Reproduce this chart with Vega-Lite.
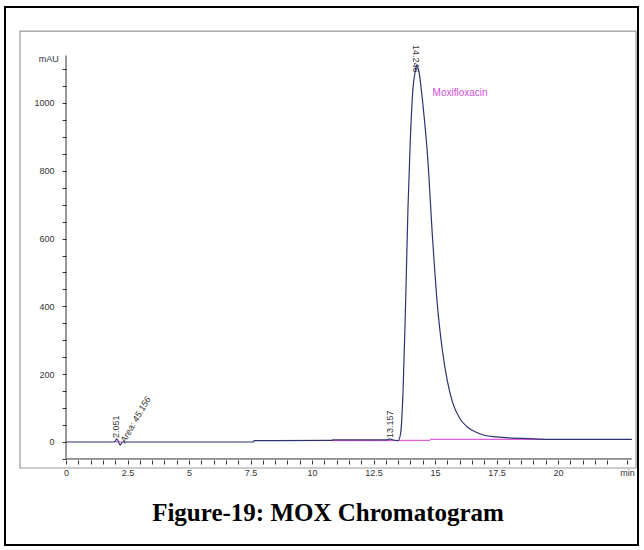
{
  "$schema": "https://vega.github.io/schema/vega-lite/v6.json",
  "autosize": "none",
  "width": 633,
  "height": 538,
  "padding": {"left": 5, "top": 7, "right": 6, "bottom": 5},
  "background": "white",
  "config": {"view": {"stroke": "black", "strokeWidth": 2}},
  "datasets": {
    "signal": [
      {"t": 0, "mAU": 0}, {"t": 1.9, "mAU": 0}, {"t": 2.0, "mAU": 2}, {"t": 2.05, "mAU": 9}, {"t": 2.12, "mAU": 3},
      {"t": 2.2, "mAU": -9}, {"t": 2.3, "mAU": 0}, {"t": 7.6, "mAU": 0}, {"t": 7.65, "mAU": 4}, {"t": 10.8, "mAU": 5},
      {"t": 10.85, "mAU": 6}, {"t": 13.05, "mAU": 6}, {"t": 13.15, "mAU": 9}, {"t": 13.3, "mAU": 6}, {"t": 13.5, "mAU": 4},
      {"t": 13.6, "mAU": 25}, {"t": 13.7, "mAU": 150}, {"t": 13.8, "mAU": 400}, {"t": 13.9, "mAU": 690}, {"t": 14.0, "mAU": 900},
      {"t": 14.1, "mAU": 1040}, {"t": 14.2, "mAU": 1095}, {"t": 14.25, "mAU": 1110}, {"t": 14.35, "mAU": 1090}, {"t": 14.5, "mAU": 1000},
      {"t": 14.7, "mAU": 840}, {"t": 14.9, "mAU": 600}, {"t": 15.1, "mAU": 400}, {"t": 15.3, "mAU": 270}, {"t": 15.5, "mAU": 180},
      {"t": 15.7, "mAU": 120}, {"t": 16.0, "mAU": 70}, {"t": 16.3, "mAU": 45}, {"t": 16.7, "mAU": 28}, {"t": 17.0, "mAU": 20},
      {"t": 17.5, "mAU": 15}, {"t": 18.0, "mAU": 12}, {"t": 18.8, "mAU": 10}, {"t": 19.5, "mAU": 8}, {"t": 21, "mAU": 8}, {"t": 23, "mAU": 8}
    ],
    "baseline": [
      {"seg": "a", "t": 1.95, "mAU": 1}, {"seg": "a", "t": 2.3, "mAU": 0},
      {"seg": "b", "t": 10.8, "mAU": 4}, {"seg": "b", "t": 14.8, "mAU": 5},
      {"seg": "c", "t": 14.8, "mAU": 8}, {"seg": "c", "t": 19.4, "mAU": 8}
    ],
    "frame": [{"t": -1.87, "t2": 23.17, "mAU": 1212, "mAU2": -76.7}],
    "axes": [
      {"t": 0, "t2": 0, "mAU": -50, "mAU2": 1140},
      {"t": 0, "t2": 23.0, "mAU": -50, "mAU2": -50}
    ]
  },
  "encoding": {
    "x": {"field": "t", "type": "quantitative", "scale": {"domain": [-2.48, 23.25], "nice": false, "zero": false},
      "axis": {"domain": false, "grid": false, "offset": -85, "labelOverlap": false, "format": "~g",
        "values": [0,0.5,1,1.5,2,2.5,3,3.5,4,4.5,5,5.5,6,6.5,7,7.5,8,8.5,9,9.5,10,10.5,11,11.5,12,12.5,13,13.5,14,14.5,15,15.5,16,16.5,17,17.5,18,18.5,19,19.5,20,20.5,21,21.5,22,22.8],
        "labelExpr": "datum.value > 22.5 ? 'min' : (datum.value % 2.5 == 0 && datum.value <= 20 ? datum.label : '')",
        "tickSize": 4, "tickColor": "#333", "labelFont": "Liberation Sans", "labelFontSize": 9, "labelColor": "#333", "labelPadding": 4, "title": null}},
    "y": {"field": "mAU", "type": "quantitative", "scale": {"domain": [-303.8, 1283], "nice": false, "zero": false},
      "axis": {"domain": false, "grid": false, "offset": -61, "labelOverlap": false,
        "values": [-50,0,50,100,150,200,250,300,350,400,450,500,550,600,650,700,750,800,850,900,950,1000,1050,1100],
        "labelExpr": "datum.value >= 0 && datum.value % 200 == 0 ? datum.label : ''",
        "format": "d",
        "tickSize": 4, "tickColor": "#333", "labelFont": "Liberation Sans", "labelFontSize": 9, "labelColor": "#333", "labelPadding": 8, "title": null}}
  },
  "layer": [
    {
      "data": {"name": "frame"},
      "mark": {"type": "rect", "fill": null, "stroke": "#999999", "strokeWidth": 1.2},
      "encoding": {"x2": {"field": "t2"}, "y2": {"field": "mAU2"}}
    },
    {
      "data": {"name": "axes"},
      "mark": {"type": "rule", "color": "#333", "strokeWidth": 1},
      "encoding": {"x2": {"field": "t2"}, "y2": {"field": "mAU2"}}
    },
    {
      "data": {"name": "baseline"},
      "mark": {"type": "line", "color": "#e060e0", "strokeWidth": 1.2},
      "encoding": {"detail": {"field": "seg"}}
    },
    {
      "data": {"name": "signal"},
      "mark": {"type": "line", "color": "#2e3370", "strokeWidth": 1.2, "interpolate": "monotone"},
      "encoding": {}
    },
    {
      "data": {"values": [{"t": 2.05, "mAU": 12, "label": "2.051"}, {"t": 13.157, "mAU": 12, "label": "13.157"}]},
      "mark": {"type": "text", "angle": 270, "align": "left", "baseline": "middle", "font": "Liberation Sans", "fontSize": 9, "color": "#333"},
      "encoding": {"text": {"field": "label"}}
    },
    {
      "data": {"values": [{"t": 2.3, "mAU": 0, "label": "Area: 45.156"}]},
      "mark": {"type": "text", "angle": 300, "align": "left", "baseline": "middle", "font": "Liberation Sans", "fontSize": 9, "fontStyle": "italic", "color": "#333"},
      "encoding": {"text": {"field": "label"}}
    },
    {
      "data": {"values": [{"t": 14.246, "mAU": 1090, "label": "14.246"}]},
      "mark": {"type": "text", "angle": 90, "align": "right", "baseline": "middle", "font": "Liberation Sans", "fontSize": 9, "color": "#333"},
      "encoding": {"text": {"field": "label"}}
    },
    {
      "data": {"values": [{"t": 14.9, "mAU": 1030, "label": "Moxifloxacin"}]},
      "mark": {"type": "text", "align": "left", "baseline": "middle", "font": "Liberation Sans", "fontSize": 10, "color": "#d050d8"},
      "encoding": {"text": {"field": "label"}}
    },
    {
      "data": {"values": [{"t": -0.3, "mAU": 1130, "label": "mAU"}]},
      "mark": {"type": "text", "align": "right", "baseline": "middle", "font": "Liberation Sans", "fontSize": 9, "color": "#333"},
      "encoding": {"text": {"field": "label"}}
    },
    {
      "data": {"values": [{"t": 10.65, "mAU": -209, "label": "Figure-19: MOX Chromatogram"}]},
      "mark": {"type": "text", "align": "center", "baseline": "middle", "font": "Liberation Serif", "fontSize": 25, "fontWeight": "bold", "color": "black"},
      "encoding": {"text": {"field": "label"}}
    }
  ]
}
